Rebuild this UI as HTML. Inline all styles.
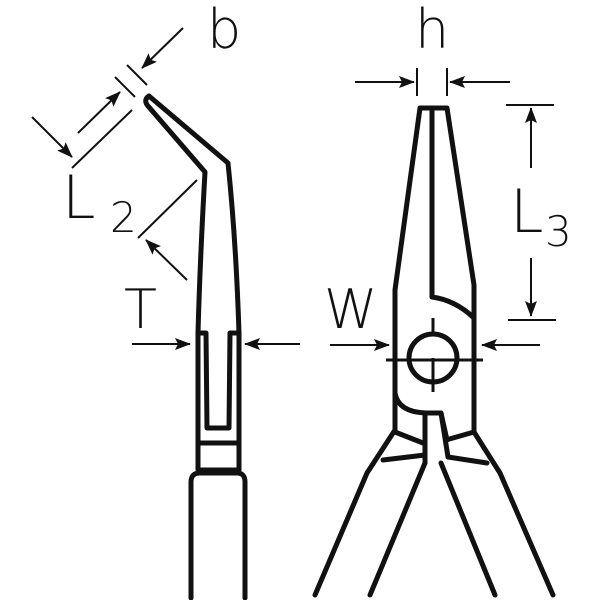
<!DOCTYPE html>
<html><head><style>html,body{margin:0;padding:0;background:#fff}svg{display:block}</style></head><body>
<svg width="600" height="600" viewBox="0 0 600 600" xmlns="http://www.w3.org/2000/svg">
<defs>
<marker id="ab" viewBox="0 0 16 12" markerWidth="16" markerHeight="12" refX="15" refY="6" orient="auto" markerUnits="userSpaceOnUse"><path d="M0,0 L16,6 L0,12 L3,6 z" fill="#111"/></marker>
</defs>
<g fill="none" stroke="#111" stroke-width="5" stroke-linejoin="round" stroke-linecap="round">
<path d="M149,96 L228,163 Q236,240 239,333 L239,443"/>
<path d="M149,96 Q143,100 148,106 L205,172 Q200,260 198,333 L198,443"/>
<path d="M198,333 L206,333 L207,428 L229,428 L230,333 L239,333"/>
<path d="M198,443 L239,443 M198,443 L198,470 M239,443 L239,470 M198,470 L239,470"/>
<path d="M191,598 L191,482 Q191,473 200,473 L237,473 Q245,473 245,482 L245,598"/>
<path d="M395,430 L395,290 L420,108 L447,108 L474,285 L474,432"/>
<path d="M432,108 L432,297 Q455,300 474,318"/>
<circle cx="433" cy="358" r="24"/>
<path d="M395,393 Q398,412 426,413 L441,413 L447,440"/>
<path d="M425,413 L425,463 M441,413 L448,457"/>
<path d="M395,430 L367,473 L315,595 M425,463 L370,595"/>
<path d="M395,432 L423,443 M383,460 L425,455"/>
<path d="M474,432 L500,473 L553,595 M441,463 L495,595"/>
<path d="M446,440 L474,432 M448,457 L487,463"/>
</g>
<g stroke="#111" stroke-width="3" fill="none">
<path d="M386,360 L483,360 M433,318 L433,333 M433,358 L433,392"/>
</g>
<g stroke="#111" stroke-width="2" fill="none">
<path d="M183,28 L142,68" marker-end="url(#ab)"/>
<path d="M127,65 L147,85 M115,77 L135,97"/>
<path d="M78,133 L120,92" marker-end="url(#ab)"/>
<path d="M72,168 L132,110 M138,238 L197,180"/>
<path d="M32,117 L72,157" marker-end="url(#ab)"/>
<path d="M187,280 L146,240" marker-end="url(#ab)"/>
<path d="M132,344 L190,344" marker-end="url(#ab)"/>
<path d="M300,344 L245,344" marker-end="url(#ab)"/>
<path d="M330,345 L389,345" marker-end="url(#ab)"/>
<path d="M540,345 L482,345" marker-end="url(#ab)"/>
<path d="M355,82 L414,82" marker-end="url(#ab)"/>
<path d="M510,82 L450,82" marker-end="url(#ab)"/>
<path d="M417,68 L417,96 M447,68 L447,96"/>
<path d="M506,105 L554,105 M508,320 L556,320"/>
<path d="M531,168 L531,108" marker-end="url(#ab)"/>
<path d="M531,258 L531,316" marker-end="url(#ab)"/>
</g>
<g font-family="'DejaVu Sans','Liberation Sans',sans-serif" fill="#111" font-weight="200">
<text x="207" y="48" font-size="54">b</text>
<text x="415" y="48" font-size="54">h</text>
<text x="62" y="218" font-size="60">L</text>
<text x="110" y="232" font-size="42">2</text>
<text x="510" y="232" font-size="60">L</text>
<text x="545" y="246" font-size="42">3</text>
<text x="124" y="328" font-size="54">T</text>
<text x="324" y="328" font-size="54">W</text>
</g>
</svg>
</body></html>
